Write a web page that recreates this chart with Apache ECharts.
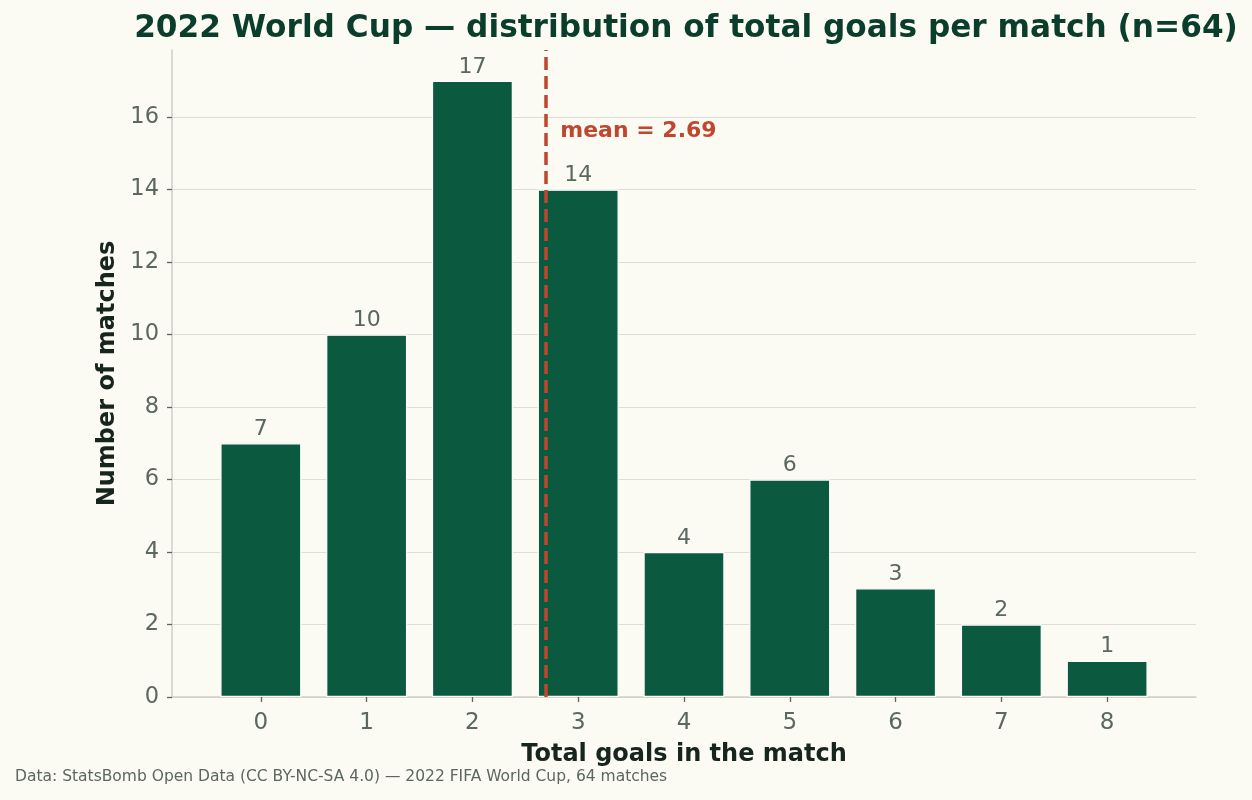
<!DOCTYPE html>
<html>
<head>
<meta charset="utf-8">
<script src="https://cdn.jsdelivr.net/npm/echarts@6/dist/echarts.min.js"></script>
<style>
  html, body { margin: 0; padding: 0; background: #fbfaf3; }
  #chart { width: 1252px; height: 800px; }
</style>
</head>
<body>
<div id="chart"></div>
<script>
// goals per match -> number of matches
const goals = [0, 1, 2, 3, 4, 5, 6, 7, 8]
const matches = [7, 10, 17, 14, 4, 6, 3, 2, 1]
const meanGoals = 2.69
const yTicks = [0, 2, 4, 6, 8, 10, 12, 14, 16]

const font = '"DejaVu Sans", Verdana, sans-serif'
const ink = '#5b675f'

const chart = echarts.init(document.getElementById('chart'))

chart.setOption({
  backgroundColor: '#fbfaf3',
  textStyle: { fontFamily: font },
  title: {
    text: '2022 World Cup — distribution of total goals per match (n=64)',
    left: 681,
    textAlign: 'center',
    top: 8,
    textStyle: { fontFamily: font, fontSize: 31.2, fontWeight: 'bold', color: '#0b3d2c' },
  },
  graphic: [{
    type: 'text',
    left: 15,
    top: 769,
    style: {
      text: 'Data: StatsBomb Open Data (CC BY-NC-SA 4.0) — 2022 FIFA World Cup, 64 matches',
      font: '15.5px ' + font,
      fill: ink,
    },
  }],
  grid: { left: 172, right: 56, top: 50, bottom: 103, containLabel: false },
  xAxis: {
    type: 'value',
    min: -0.84,
    max: 8.84,
    name: 'Total goals in the match',
    nameLocation: 'middle',
    nameGap: 46,
    nameTextStyle: { fontFamily: font, fontSize: 24, fontWeight: 'bold', color: '#17251e' },
    splitLine: { show: false },
    axisLine: { show: true, onZero: false, lineStyle: { color: '#cfcfc8', width: 1.5 } },
    axisTick: { show: true, customValues: goals, length: 5, lineStyle: { color: ink, width: 1.3 } },
    axisLabel: { customValues: goals, fontSize: 23, color: ink, margin: 15 },
  },
  yAxis: {
    type: 'value',
    min: 0,
    max: 17.85,
    name: 'Number of matches',
    nameLocation: 'middle',
    nameGap: 49,
    nameTextStyle: { fontFamily: font, fontSize: 24, fontWeight: 'bold', color: '#17251e' },
    axisLine: { show: true, onZero: false, lineStyle: { color: '#cfcfc8', width: 1.5 } },
    axisTick: { show: true, customValues: yTicks, length: 5, lineStyle: { color: ink, width: 1.3 } },
    axisLabel: { customValues: yTicks, fontSize: 22.5, color: ink, margin: 13 },
    splitLine: { show: true, customValues: yTicks, lineStyle: { color: '#deded6', width: 1 } },
  },
  series: [{
    type: 'bar',
    data: goals.map((g, i) => [g, matches[i]]),
    barWidth: 81,
    itemStyle: { color: '#0b5a40', borderColor: '#ffffff', borderWidth: 1.2 },
    label: {
      show: true,
      position: 'top',
      distance: 3,
      fontSize: 22,
      color: ink,
      formatter: p => p.value[1],
    },
    markLine: {
      silent: true,
      symbol: 'none',
      lineStyle: { color: '#c0462e', type: [13, 6], width: 3.5 },
      label: { show: false },
      data: [{ xAxis: meanGoals }],
    },
    markPoint: {
      symbolSize: 0,
      data: [{ coord: [meanGoals + 0.14, 15.6] }],
      label: {
        show: true,
        position: 'right',
        distance: 0,
        formatter: 'mean = ' + meanGoals.toFixed(2),
        fontSize: 22,
        fontWeight: 'bold',
        color: '#c0462e',
      },
    },
  }],
})
</script>
</body>
</html>
